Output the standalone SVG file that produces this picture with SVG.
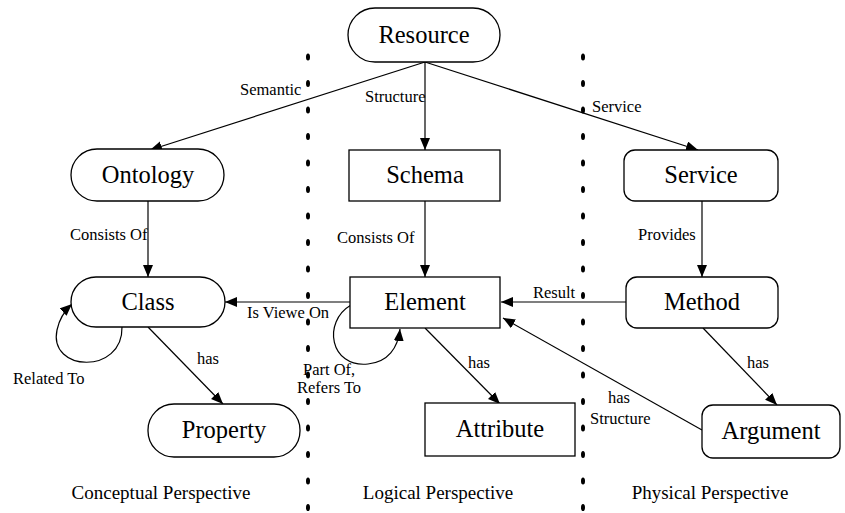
<svg xmlns="http://www.w3.org/2000/svg" width="845" height="513" viewBox="0 0 845 513">
  <style>
    .box { fill: #fff; stroke: #000; stroke-width: 1.3; }
    .edge { fill: none; stroke: #000; stroke-width: 1.2; }
    .name { font-family: "Liberation Serif", "Times New Roman", serif; font-size: 24.5px; text-anchor: middle; fill: #000; }
    .lbl { font-family: "Liberation Serif", "Times New Roman", serif; font-size: 16.5px; fill: #000; }
    .persp { font-family: "Liberation Serif", "Times New Roman", serif; font-size: 19px; text-anchor: middle; fill: #000; }
    .dot { fill: #000; }
  </style>
  <defs>
    <marker id="arrow" markerUnits="userSpaceOnUse" markerWidth="13" markerHeight="11" refX="12" refY="5" orient="auto">
      <path d="M0,0 L12,5 L0,10 z" fill="#000"/>
    </marker>
    <ellipse id="d" class="dot" cx="0" cy="0" rx="2" ry="3.6"/>
  </defs>

  <!-- perspective separators -->
  <g id="separators">
    <g transform="translate(308,0)">
      <use href="#d" y="57"/><use href="#d" y="83.5"/><use href="#d" y="110"/><use href="#d" y="136.5"/>
      <use href="#d" y="163"/><use href="#d" y="189.5"/><use href="#d" y="216"/><use href="#d" y="242.5"/>
      <use href="#d" y="269"/><use href="#d" y="295.5"/><use href="#d" y="322"/><use href="#d" y="348.5"/>
      <use href="#d" y="375"/><use href="#d" y="401.5"/><use href="#d" y="428"/><use href="#d" y="454.5"/>
      <use href="#d" y="481"/><use href="#d" y="507.5"/>
    </g>
    <g transform="translate(583,0)">
      <use href="#d" y="57"/><use href="#d" y="83.5"/><use href="#d" y="110"/><use href="#d" y="136.5"/>
      <use href="#d" y="163"/><use href="#d" y="189.5"/><use href="#d" y="216"/><use href="#d" y="242.5"/>
      <use href="#d" y="269"/><use href="#d" y="295.5"/><use href="#d" y="322"/><use href="#d" y="348.5"/>
      <use href="#d" y="375"/><use href="#d" y="401.5"/><use href="#d" y="428"/><use href="#d" y="454.5"/>
      <use href="#d" y="481"/><use href="#d" y="507.5"/>
    </g>
  </g>

  <!-- connectors -->
  <g id="connectors">
    <path class="edge" d="M425,62 L150,150" marker-end="url(#arrow)"/>
    <path class="edge" d="M425,62 L425,150" marker-end="url(#arrow)"/>
    <path class="edge" d="M425,62 L698,150" marker-end="url(#arrow)"/>
    <path class="edge" d="M148,201 L148,277" marker-end="url(#arrow)"/>
    <path class="edge" d="M425,201 L425,277" marker-end="url(#arrow)"/>
    <path class="edge" d="M702,201 L702,277" marker-end="url(#arrow)"/>
    <path class="edge" d="M350,302 L225,302" marker-end="url(#arrow)"/>
    <path class="edge" d="M626,302 L501,302" marker-end="url(#arrow)"/>
    <path class="edge" d="M122,327 C123,375 48,372 57,330 Q60,315 72,304" marker-end="url(#arrow)"/>
    <path class="edge" d="M148,327 L223,404" marker-end="url(#arrow)"/>
    <path class="edge" d="M351,305 C322,322 330,368 368,364 C388,362 398,348 400,329" marker-end="url(#arrow)"/>
    <path class="edge" d="M425,328 L500,404" marker-end="url(#arrow)"/>
    <path class="edge" d="M703,328 L777,405" marker-end="url(#arrow)"/>
    <path class="edge" d="M702,430 L503,318" marker-end="url(#arrow)"/>

    <text class="lbl" x="240" y="95">Semantic</text>
    <text class="lbl" x="365" y="102">Structure</text>
    <text class="lbl" x="592" y="112">Service</text>
    <text class="lbl" x="70" y="240">Consists Of</text>
    <text class="lbl" x="337" y="243">Consists Of</text>
    <text class="lbl" x="638" y="240">Provides</text>
    <text class="lbl" x="247" y="318">Is Viewe On</text>
    <text class="lbl" x="533" y="298">Result</text>
    <text class="lbl" x="13" y="384">Related To</text>
    <text class="lbl" x="197" y="364">has</text>
    <text class="lbl" x="303" y="375">Part Of,</text>
    <text class="lbl" x="297" y="393">Refers To</text>
    <text class="lbl" x="468" y="368">has</text>
    <text class="lbl" x="747" y="368">has</text>
    <text class="lbl" x="608" y="403">has</text>
    <text class="lbl" x="590" y="424">Structure</text>
  </g>

  <!-- nodes -->
  <g id="resource">
    <rect class="box" x="348" y="8" width="152" height="54" rx="27"/>
    <text class="name" x="424" y="43">Resource</text>
  </g>
  <g id="ontology">
    <rect class="box" x="71" y="149" width="153" height="52" rx="26"/>
    <text class="name" x="148" y="183">Ontology</text>
  </g>
  <g id="schema">
    <rect class="box" x="349" y="150" width="151" height="51"/>
    <text class="name" x="425" y="183">Schema</text>
  </g>
  <g id="service">
    <rect class="box" x="624" y="150" width="154" height="51" rx="11"/>
    <text class="name" x="701" y="183">Service</text>
  </g>
  <g id="class">
    <rect class="box" x="71" y="277" width="154" height="50" rx="25"/>
    <text class="name" x="148" y="310">Class</text>
  </g>
  <g id="element">
    <rect class="box" x="350" y="277" width="150" height="51"/>
    <text class="name" x="425" y="310">Element</text>
  </g>
  <g id="method">
    <rect class="box" x="626" y="277" width="152" height="51" rx="11"/>
    <text class="name" x="702" y="310">Method</text>
  </g>
  <g id="property">
    <rect class="box" x="148" y="404" width="152" height="53" rx="26"/>
    <text class="name" x="224" y="438">Property</text>
  </g>
  <g id="attribute">
    <rect class="box" x="425" y="403" width="150" height="53"/>
    <text class="name" x="500" y="437">Attribute</text>
  </g>
  <g id="argument">
    <rect class="box" x="702" y="405" width="138" height="53" rx="11"/>
    <text class="name" x="771" y="439">Argument</text>
  </g>

  <!-- perspective captions -->
  <g id="captions">
    <text class="persp" x="161" y="499">Conceptual Perspective</text>
    <text class="persp" x="438" y="499">Logical Perspective</text>
    <text class="persp" x="710" y="499">Physical Perspective</text>
  </g>
</svg>
